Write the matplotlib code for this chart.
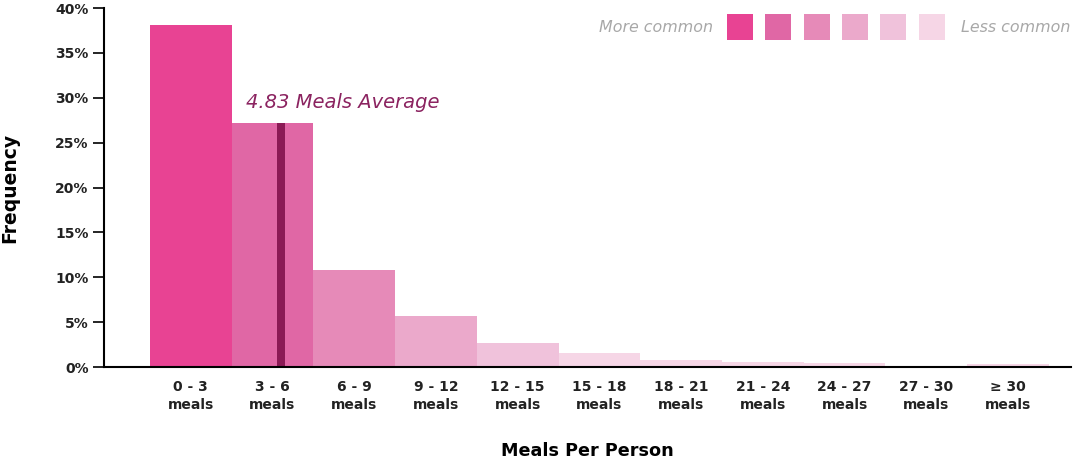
import matplotlib
matplotlib.use("Agg")
import matplotlib.pyplot as plt
from matplotlib.patches import Rectangle

bins = ["0 - 3\nmeals", "3 - 6\nmeals", "6 - 9\nmeals", "9 - 12\nmeals", "12 - 15\nmeals",
        "15 - 18\nmeals", "18 - 21\nmeals", "21 - 24\nmeals", "24 - 27\nmeals",
        "27 - 30\nmeals", "\u2265 30\nmeals"]
freq = [38.1, 27.2, 10.8, 5.65, 2.65, 1.55, 0.78, 0.52, 0.4, 0.0, 0.3]
avg = 4.83

shades = ["#E84393", "#E067A5", "#E68AB8", "#EBA9CB", "#F0C2DB", "#F6D6E6"]
bar_colors = [shades[min(i, 5)] for i in range(len(freq))]

plt.rcParams['font.family'] = ['DejaVu Sans']

fig = plt.figure(figsize=(10.8, 4.63), dpi=100)
ax = fig.add_axes([0.0963, 0.2073, 0.8954, 0.7754])

xs = list(range(len(freq)))
ax.bar(xs, freq, width=1.0, color=bar_colors, linewidth=0)

# average marker inside the 3-6 bar
x_avg = avg / 3 - 0.5
ax.bar([x_avg], [freq[1]], width=0.1, color="#8B1A55", linewidth=0)
ax.text(x_avg - 0.43, 29.5, "%.2f Meals Average" % avg, fontsize=14, style="italic",
        color="#8B2360", ha="left", va="center")

ax.set_xlim(-1.06, 10.77)
ax.set_ylim(0, 40)
ax.set_yticks(range(0, 41, 5))
ax.set_yticklabels(["%d%%" % v for v in range(0, 41, 5)], fontsize=10, color="#222222",
                   fontweight="bold")
ax.set_xticks(xs)
ax.set_xticklabels(bins, fontsize=10, color="#222222", linespacing=1.4, fontweight="bold")
ax.tick_params(axis="x", length=0, pad=9)
ax.tick_params(axis="y", length=8, width=1.2, pad=3)

for s in ["top", "right"]:
    ax.spines[s].set_visible(False)
ax.spines["left"].set_linewidth(1.5)
ax.spines["bottom"].set_linewidth(1.5)

ax.set_ylabel("Frequency", fontsize=13.5, fontweight="bold", labelpad=26)
ax.set_xlabel("Meals Per Person", fontsize=12.7, fontweight="bold", labelpad=22)

# legend scale
W, H = 1080, 463
fig.text(713 / W, 1 - 27 / H, "More common", fontsize=11.4, style="italic", color="#A8A8A8",
         ha="right", va="center")
for i, c in enumerate(shades):
    x0 = 727 + i * 38.3
    fig.patches.append(Rectangle((x0 / W, 1 - 40 / H), 26 / W, 26 / H,
                                 transform=fig.transFigure, color=c, linewidth=0))
fig.text(961 / W, 1 - 27 / H, "Less common", fontsize=11.4, style="italic", color="#A8A8A8",
         ha="left", va="center")

fig.savefig("out.png", dpi=100)
